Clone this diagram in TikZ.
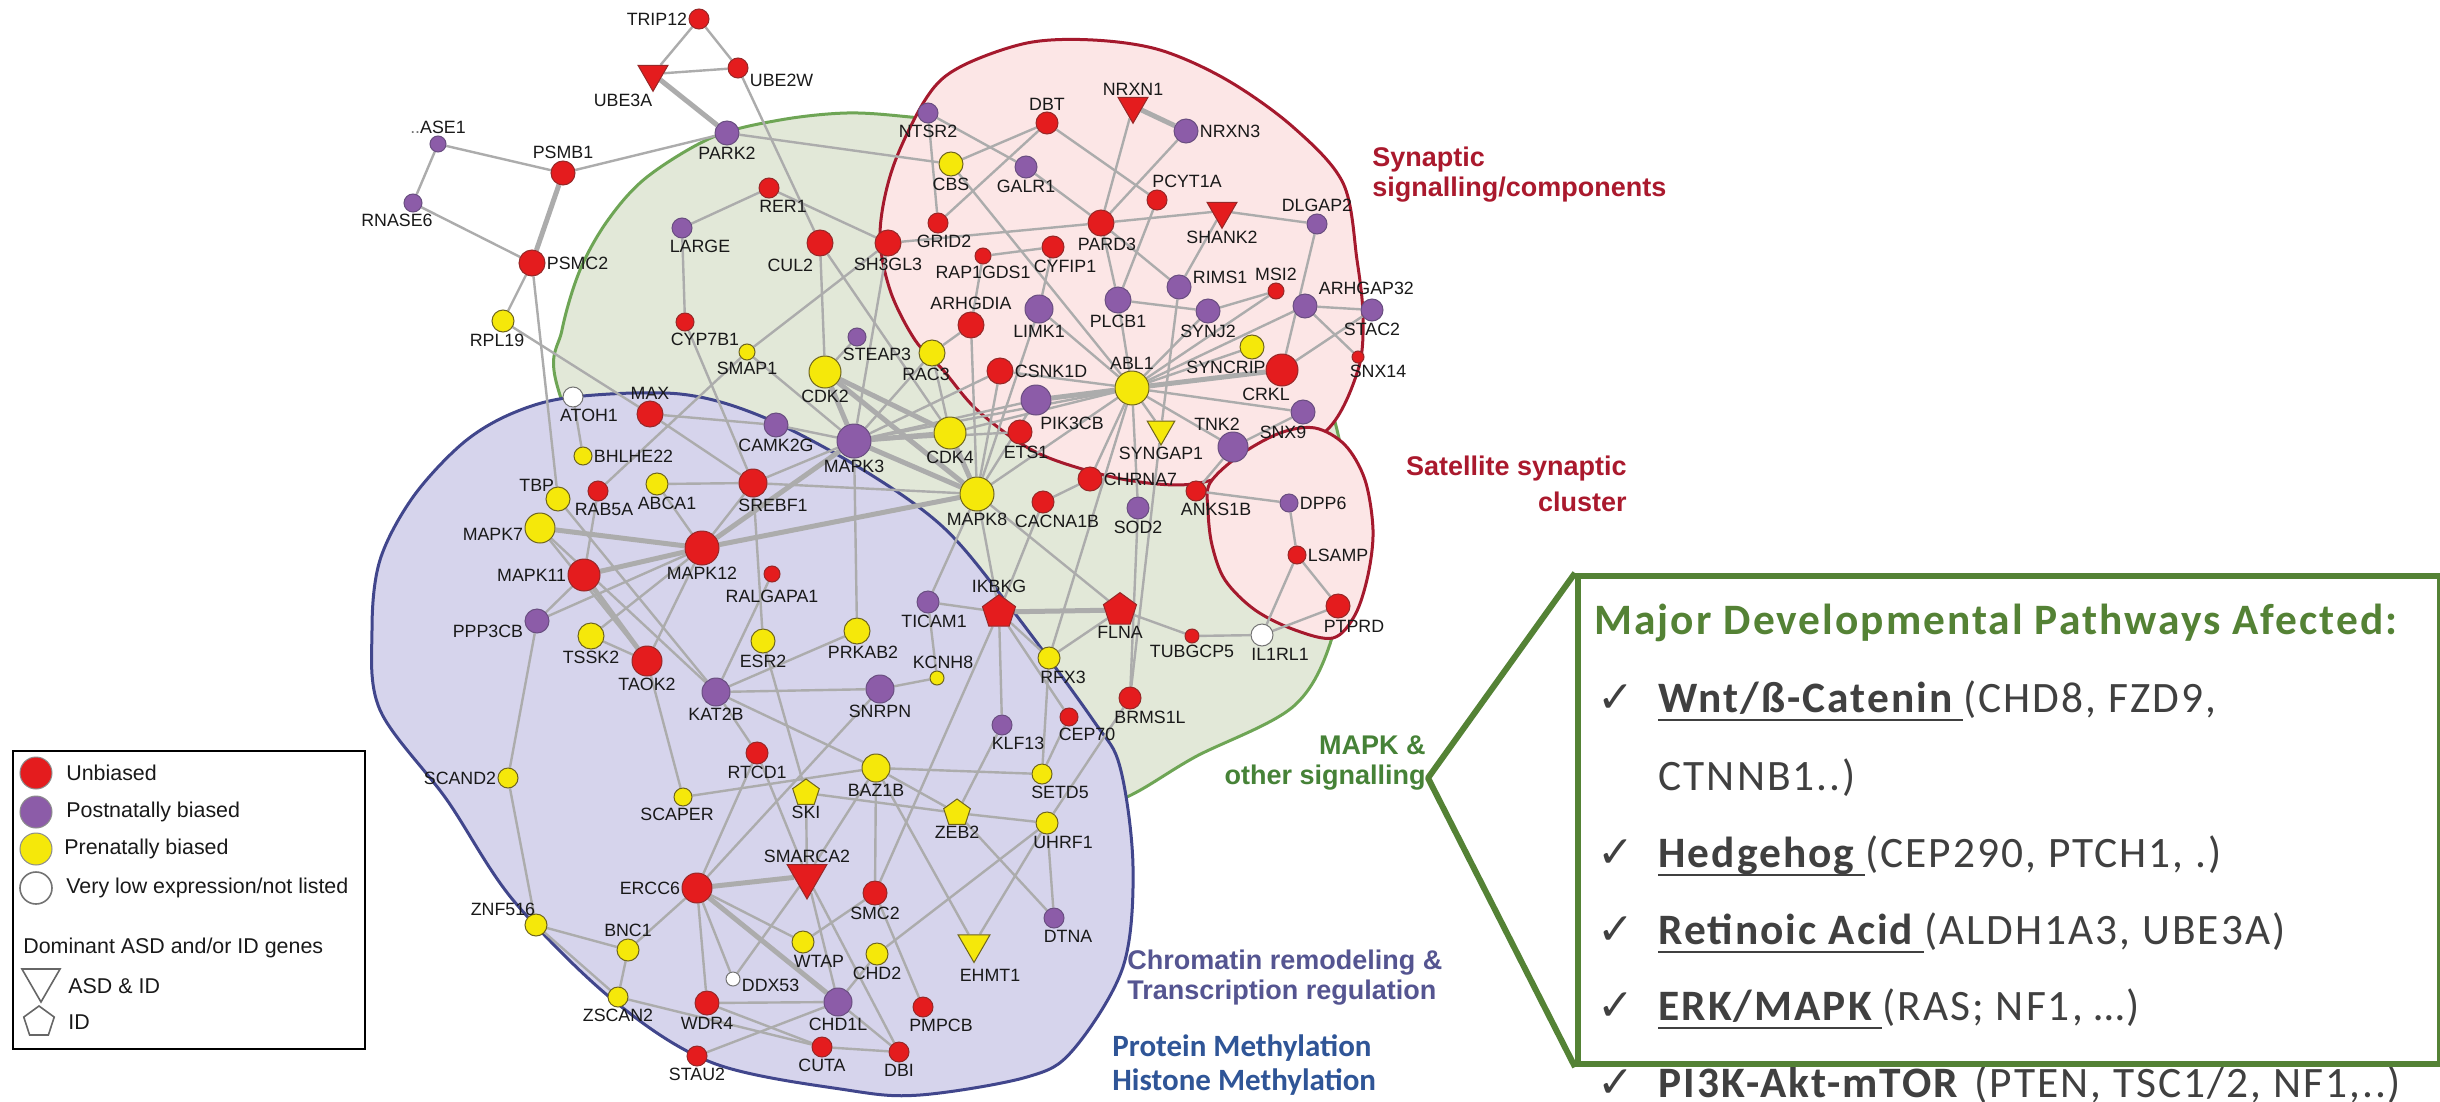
\documentclass[tikz,border=0pt]{standalone}
\usepackage{fontspec}
\setmainfont{Liberation Sans}
\newfontfamily\boxfnt{Carlito}[LetterSpace=4.7]
\newfontfamily\methfnt{Carlito}
\newfontfamily\symfnt{DejaVu Sans}
\usetikzlibrary{shapes.geometric}
\pgfdeclarelayer{regions}
\pgfdeclarelayer{links}
\pgfsetlayers{regions,links,main}

\definecolor{nRed}{RGB}{228,28,30}
\definecolor{nRedD}{RGB}{150,40,40}
\definecolor{nPur}{RGB}{140,92,168}
\definecolor{nPurD}{RGB}{105,78,128}
\definecolor{nYel}{RGB}{245,232,10}
\definecolor{nYelD}{RGB}{110,100,30}
\definecolor{edgeC}{RGB}{172,172,172}
\definecolor{gFill}{RGB}{226,232,216}
\definecolor{gLine}{RGB}{110,165,85}
\definecolor{bFill}{RGB}{214,212,236}
\definecolor{bLine}{RGB}{65,70,140}
\definecolor{rFill}{RGB}{252,230,230}
\definecolor{rLine}{RGB}{165,25,45}
\definecolor{synTxt}{RGB}{170,25,45}
\definecolor{mapkTxt}{RGB}{70,130,55}
\definecolor{chrTxt}{RGB}{85,85,145}
\definecolor{methTxt}{RGB}{47,85,151}
\definecolor{boxGreen}{RGB}{84,130,53}
\definecolor{boxGray}{RGB}{64,64,64}

\newcommand\genefont{\fontsize{8.9}{9}\selectfont}
% \gene[label options]{style}{size in pt}{name}{x,y}{label position}{text}
\newcommand\gene[7][]{\node[#2, minimum size=#3pt, label={[lab,#1]#6:#7}] (#4) at (#5) {};}

\tikzset{
  gn/.style={circle, inner sep=0pt, line width=0.5pt, label distance=1.5pt},
  U/.style={gn, fill=nRed, draw=nRedD},
  P/.style={gn, fill=nPur, draw=nPurD},
  Y/.style={gn, fill=nYel, draw=nYelD},
  W/.style={gn, fill=white, draw=black!55},
  tri/.style={regular polygon, regular polygon sides=3, shape border rotate=180, inner sep=0pt, line width=0.5pt, label distance=1.5pt},
  pent/.style={regular polygon, regular polygon sides=5, inner sep=0pt, line width=0.5pt, label distance=1.5pt},
  Utri/.style={tri, fill=nRed, draw=nRedD},
  Ytri/.style={tri, fill=nYel, draw=nYelD},
  Upent/.style={pent, fill=nRed, draw=nRedD},
  Ypent/.style={pent, fill=nYel, draw=nYelD},
  lab/.style={font=\genefont, text=black!90, inner sep=0.5pt},
  ed/.style={draw=edgeC, line width=1.2pt},
  edT/.style={draw=edgeC, line width=2.5pt},
  reg/.style={font=\bfseries\fontsize{13.5}{15}\selectfont, inner sep=0pt},
  meth/.style={font=\methfnt\bfseries\fontsize{15.5}{18}\selectfont, text=methTxt, inner sep=0pt, anchor=west},
  leg/.style={font=\fontsize{10.7}{12}\selectfont, inner sep=0pt, anchor=west, text=black!90},
  boxt/.style={font=\boxfnt\fontsize{21.7}{24}\selectfont, text=boxGray, inner sep=0pt, anchor=base west},
  boxb/.style={boxt, font=\boxfnt\bfseries\fontsize{21.7}{24}\selectfont},
  chk/.style={font=\symfnt\fontsize{22}{24}\selectfont, text=boxGray, inner sep=0pt, anchor=base west},
  ul/.style={draw=boxGray, line width=1.4pt},
}

\begin{document}
\begin{tikzpicture}[x=0.5pt, y=-0.5pt]
\useasboundingbox (0,0) rectangle (2440,1102);

% ---------- functional regions ----------
\begin{pgfonlayer}{regions}
\fill[white] (0,0) rectangle (2440,1102);
\draw[fill=gFill, draw=gLine, line width=1.5pt] plot[smooth cycle, tension=0.55] coordinates {
 (557,385) (562,330) (580,270) (608,220) (647,177) (713,137) (780,120) (847,113) (910,117)
 (1000,128) (1100,162) (1200,222) (1280,305) (1330,405) (1350,520) (1335,628) (1295,705)
 (1195,757) (1127,797) (1050,825) (950,820) (840,760) (720,660) (620,540)};
\draw[fill=bFill, draw=bLine, line width=1.5pt] plot[smooth cycle, tension=0.55] coordinates {
 (573,397) (680,394) (763,417) (860,468) (943,527) (1010,607) (1093,720) (1120,767) (1133,867)
 (1123,967) (1073,1050) (1027,1077) (920,1095) (847,1090) (713,1063) (613,1000) (513,900)
 (447,800) (380,710) (372,630) (380,560) (413,497) (463,443) (513,413)};
\draw[fill=rFill, draw=rLine, line width=1.5pt] plot[smooth cycle, tension=0.55] coordinates {
 (893,167) (927,97) (960,67) (1027,43) (1093,40) (1160,50) (1227,80) (1293,127) (1343,183)
 (1357,260) (1363,317) (1358,370) (1327,430) (1260,463) (1193,484) (1127,480) (1060,462)
 (1020,443) (975,408) (943,370) (915,340) (890,290) (880,233)};
\draw[fill=rFill, draw=rLine, line width=1.5pt] plot[smooth cycle, tension=0.55] coordinates {
 (1210,483) (1240,455) (1280,433) (1315,428) (1345,445) (1365,480) (1373,530) (1368,575)
 (1355,615) (1333,638) (1295,630) (1255,610) (1225,580) (1212,545) (1208,510)};
\end{pgfonlayer}

% ---------- genes ----------
\gene{U}{10}{trip12}{699,19}{left}{TRIP12}
\gene[yshift=-6pt]{U}{10}{ube2w}{738,68}{right}{UBE2W}
\gene[xshift=-15pt]{Utri}{17.3}{ube3a}{653,74}{below}{UBE3A}
\gene{P}{12}{park2}{727,133}{below}{PARK2}
\gene{P}{8}{rnasea}{438,144}{above}{{\color{black!55}..}ASE1}
\gene[xshift=-8pt]{P}{9}{rnaseb}{413,203}{below}{RNASE6}
\gene{U}{12}{psmb1}{563,173}{above}{PSMB1}
\gene{U}{13}{psmc2}{532,263}{right}{PSMC2}
\gene[xshift=-3pt]{Y}{11}{rpl19}{503,321}{below}{RPL19}
\gene[xshift=9pt]{P}{10}{large}{682,228}{below}{LARGE}
\gene[xshift=7pt]{U}{10}{rer1}{769,188}{below}{RER1}
\gene[yshift=-11pt, xshift=4pt]{U}{13}{cul2}{820,243}{left}{CUL2}
\gene{U}{13}{sh3gl3}{888,243}{below}{SH3GL3}
\gene[xshift=10pt]{U}{9}{cyp7b1}{685,322}{below}{CYP7B1}
\gene{Y}{8}{smap1}{747,352}{below}{SMAP1}
\gene[xshift=10pt]{P}{9}{steap3}{857,337}{below}{STEAP3}
\gene{Y}{16}{cdk2}{825,372}{below}{CDK2}
\gene{P}{10}{ntsr2}{928,113}{below}{NTSR2}
\gene{U}{11}{dbt}{1047,123}{above}{DBT}
\gene{Utri}{17.3}{nrxn1}{1133,106}{above}{NRXN1}
\gene{P}{12}{nrxn3}{1186,131}{right}{NRXN3}
\gene{Y}{12}{cbs}{951,164}{below}{CBS}
\gene{P}{11}{galr1}{1026,167}{below}{GALR1}
\gene[xshift=15pt]{U}{10}{pcyt1a}{1157,200}{above}{PCYT1A}
\gene{Utri}{17.3}{shank2}{1222,211}{below}{SHANK2}
\gene{P}{10}{dlgap2}{1317,224}{above}{DLGAP2}
\gene[xshift=3pt]{U}{10}{grid2}{938,223}{below}{GRID2}
\gene[xshift=3pt]{U}{13}{pard3}{1101,223}{below}{PARD3}
\gene[xshift=6pt]{U}{11}{cyfip1}{1053,247}{below}{CYFIP1}
\gene{U}{8}{rapgds}{983,256}{below}{RAP1GDS1}
\gene[yshift=5pt]{P}{12}{rims1}{1179,287}{right}{RIMS1}
\gene{U}{8}{msi2}{1276,291}{above}{MSI2}
\gene[yshift=9pt]{P}{12}{arhgap}{1305,306}{right}{ARHGAP32}
\gene{P}{11}{stac2}{1372,310}{below}{STAC2}
\gene{P}{14}{limk1}{1039,309}{below}{LIMK1}
\gene{P}{13}{plcb1}{1118,300}{below}{PLCB1}
\gene{P}{12}{synj2}{1208,311}{below}{SYNJ2}
\gene{U}{13}{arhgdia}{971,325}{above}{ARHGDIA}
\gene[xshift=-3pt]{Y}{13}{rac3}{932,353}{below}{RAC3}
\gene{U}{13}{csnk1d}{1000,371}{right}{CSNK1D}
\gene{Y}{17}{abl1}{1132,388}{above}{ABL1}
\gene[xshift=-13pt]{Y}{12}{syncrip}{1252,347}{below}{SYNCRIP}
\gene[xshift=-8pt]{U}{16}{crkl}{1282,370}{below}{CRKL}
\gene[xshift=10pt]{U}{6}{snx14}{1358,357}{below}{SNX14}
\gene[xshift=-10pt]{P}{12}{snx9}{1303,412}{below}{SNX9}
\gene[xshift=-8pt]{P}{15}{tnk2}{1233,447}{above}{TNK2}
\gene{Ytri}{16}{syngap1}{1161,429}{below}{SYNGAP1}
\gene[xshift=18pt]{P}{15}{pik3cb}{1036,400}{below}{PIK3CB}
\gene{Y}{16}{cdk4}{950,433}{below}{CDK4}
\gene[xshift=3pt]{U}{12}{ets1}{1020,432}{below}{ETS1}
\gene{P}{17}{mapk3}{854,441}{below}{MAPK3}
\gene{P}{12}{camk2g}{776,425}{below}{CAMK2G}
\gene{Y}{17}{mapk8}{977,494}{below}{MAPK8}
\gene{U}{12}{chrna7}{1090,479}{right}{CHRNA7}
\gene[xshift=7pt]{U}{11}{cacna1b}{1043,502}{below}{CACNA1B}
\gene{P}{11}{sod2}{1138,508}{below}{SOD2}
\gene[xshift=10pt]{U}{10}{anks1b}{1196,491}{below}{ANKS1B}
\gene{P}{9}{dpp6}{1289,503}{right}{DPP6}
\gene{U}{9}{lsamp}{1297,555}{right}{LSAMP}
\gene[xshift=8pt]{U}{12}{ptprd}{1338,606}{below}{PTPRD}
\gene[xshift=9pt]{W}{11}{il1rl1}{1262,635}{below}{IL1RL1}
\gene{U}{7}{tubgcp5}{1192,636}{below}{TUBGCP5}
\gene{Upent}{17.4}{flna}{1120,610}{below}{FLNA}
\gene{Upent}{17.4}{ikbkg}{999,612}{above}{IKBKG}
\gene[xshift=3pt]{P}{11}{ticam1}{928,602}{below}{TICAM1}
\gene[xshift=7pt]{Y}{11}{rfx3}{1049,658}{below}{RFX3}
\gene[xshift=3pt]{Y}{7}{kcnh8}{937,678}{above}{KCNH8}
\gene{P}{14}{snrpn}{880,689}{below}{SNRPN}
\gene[xshift=10pt]{U}{11}{brms1l}{1130,698}{below}{BRMS1L}
\gene[xshift=3pt]{Y}{13}{prkab2}{857,631}{below}{PRKAB2}
\gene[xshift=8pt]{W}{10}{atoh1}{573,397}{below}{ATOH1}
\gene{U}{13}{maxg}{650,414}{above}{MAX}
\gene{Y}{9}{bhlhe22}{583,456}{right}{BHLHE22}
\gene[yshift=7pt, xshift=5pt]{Y}{12}{tbp}{558,499}{left}{TBP}
\gene[xshift=3pt]{U}{10}{rab5a}{598,491}{below}{RAB5A}
\gene[xshift=5pt]{Y}{11}{abca1}{657,484}{below}{ABCA1}
\gene[xshift=10pt]{U}{14}{srebf1}{753,483}{below}{SREBF1}
\gene[yshift=-3pt]{Y}{15}{mapk7}{540,528}{left}{MAPK7}
\gene{U}{17}{mapk12}{702,548}{below}{MAPK12}
\gene{U}{16}{mapk11}{584,575}{left}{MAPK11}
\gene[yshift=-3pt]{U}{8}{ralgapa1}{772,574}{below}{RALGAPA1}
\gene[yshift=-5pt]{P}{12}{ppp3cb}{537,621}{left}{PPP3CB}
\gene{Y}{13}{tssk2}{591,636}{below}{TSSK2}
\gene{U}{15}{taok2}{647,661}{below}{TAOK2}
\gene{Y}{12}{esr2}{763,641}{below}{ESR2}
\gene{P}{14}{kat2b}{716,692}{below}{KAT2B}
\gene{Y}{10}{scand2}{508,778}{left}{SCAND2}
\gene{U}{11}{rtcd1}{757,753}{below}{RTCD1}
\gene[xshift=-3pt]{Y}{9}{scaper}{683,797}{below}{SCAPER}
\gene{Ypent}{14}{ski}{806,793}{below}{SKI}
\gene{Y}{14}{baz1b}{876,768}{below}{BAZ1B}
\gene{Utri}{23}{smarca2}{807,876}{above}{SMARCA2}
\gene{U}{15}{ercc6}{697,888}{left}{ERCC6}
\gene{U}{12}{smc2}{875,893}{below}{SMC2}
\gene[yshift=8pt, xshift=6pt]{Y}{11}{znf516}{536,925}{left}{ZNF516}
\gene{Y}{11}{bnc1}{628,950}{above}{BNC1}
\gene[xshift=8pt]{Y}{11}{wtap}{803,942}{below}{WTAP}
\gene{Y}{11}{chd2}{877,954}{below}{CHD2}
\gene[yshift=-3pt]{W}{7}{ddx53}{733,979}{right}{DDX53}
\gene{Y}{10}{zscan2}{618,997}{below}{ZSCAN2}
\gene{U}{12}{wdr4}{707,1003}{below}{WDR4}
\gene{P}{14}{chd1l}{838,1002}{below}{CHD1L}
\gene{U}{10}{cuta}{822,1047}{below}{CUTA}
\gene{U}{10}{stau2}{697,1056}{below}{STAU2}
\gene{U}{10}{dbi}{899,1052}{below}{DBI}
\gene[xshift=8pt]{P}{10}{klf13}{1002,725}{below}{KLF13}
\gene[xshift=9pt]{U}{9}{cep70}{1069,717}{below}{CEP70}
\gene[xshift=9pt]{Y}{10}{setd5}{1042,774}{below}{SETD5}
\gene{Ypent}{14}{zeb2}{957,813}{below}{ZEB2}
\gene[xshift=8pt]{Y}{11}{uhrf1}{1047,823}{below}{UHRF1}
\gene[xshift=7pt]{P}{10}{dtna}{1054,918}{below}{DTNA}
\gene[xshift=8pt, yshift=-2pt]{Ytri}{18.5}{ehmt1}{974,944}{below}{EHMT1}
\gene[xshift=9pt]{U}{10}{pmpcb}{923,1007}{below}{PMPCB}

% ---------- interactions ----------
\begin{pgfonlayer}{links}
\foreach \a/\b in {trip12/ube3a, trip12/ube2w, ube2w/ube3a, ube2w/cul2, park2/psmb1, park2/cbs,
  rnasea/psmb1, rnasea/rnaseb, rnaseb/psmc2, psmc2/rpl19, psmc2/tbp, rpl19/maxg, large/rer1,
  large/cyp7b1, rer1/sh3gl3, cul2/cdk2, cul2/cdk4, sh3gl3/smap1, cyp7b1/srebf1, steap3/cdk2,
  sh3gl3/mapk3, sh3gl3/pard3,
  ntsr2/grid2, ntsr2/galr1, dbt/cbs, dbt/pcyt1a, nrxn1/pard3, nrxn3/pard3, galr1/pard3, cbs/abl1,
  grid2/dbt, pard3/shank2, shank2/dlgap2, rapgds/cyfip1, rapgds/arhgdia, pard3/plcb1, pard3/rims1,
  pcyt1a/plcb1, shank2/rims1, plcb1/synj2, synj2/msi2, dlgap2/crkl, arhgap/stac2, arhgap/abl1,
  arhgap/snx14, stac2/crkl, cyfip1/limk1, limk1/abl1, limk1/mapk8, arhgdia/rac3, arhgdia/mapk8,
  rims1/syngap1, syngap1/brms1l, abl1/csnk1d, abl1/plcb1, abl1/synj2, abl1/snx9, abl1/tnk2,
  abl1/syngap1, abl1/sod2, abl1/rfx3, abl1/msi2, abl1/syncrip, tnk2/snx9, tnk2/anks1b,
  mapk3/rac3, mapk3/csnk1d, mapk3/pik3cb, mapk3/ets1, mapk3/abl1, mapk3/camk2g, mapk3/srebf1,
  mapk3/prkab2, mapk3/smap1, cdk4/rac3, cdk4/abl1, mapk8/abl1, mapk8/pik3cb, mapk8/csnk1d,
  mapk8/srebf1, mapk8/ikbkg, mapk8/flna, mapk8/ticam1, chrna7/cacna1b, chrna7/abl1,
  cacna1b/ikbkg, sod2/brms1l, ikbkg/ticam1, ikbkg/rfx3, ikbkg/klf13, ikbkg/cep70, flna/tubgcp5,
  flna/rfx3, tubgcp5/il1rl1, il1rl1/lsamp, il1rl1/ptprd, lsamp/ptprd, lsamp/dpp6, dpp6/anks1b,
  kcnh8/snrpn,
  atoh1/bhlhe22, maxg/srebf1, maxg/camk2g, abca1/srebf1, abca1/mapk12, srebf1/mapk12, srebf1/esr2,
  mapk7/taok2, mapk7/kat2b, tbp/kat2b, mapk11/ppp3cb, mapk12/ppp3cb, mapk12/tssk2, mapk12/taok2,
  rab5a/mapk11, tssk2/taok2, ppp3cb/scand2, ralgapa1/kat2b, esr2/ski, kat2b/snrpn, kat2b/rtcd1,
  kat2b/baz1b, smap1/rab5a, taok2/scaper,
  scand2/znf516, znf516/bnc1, znf516/zscan2, bnc1/zscan2, bnc1/ercc6, zscan2/cuta, ercc6/rtcd1,
  ercc6/snrpn, ercc6/wdr4, ercc6/ddx53, ercc6/wtap, smarca2/ski, smarca2/ddx53, smarca2/chd1l,
  smarca2/baz1b, smarca2/dbi, rtcd1/smarca2, scaper/baz1b, ski/zeb2, smc2/wtap, smc2/baz1b,
  smc2/pmpcb, chd2/chd1l, chd1l/wdr4, chd1l/stau2, chd1l/dbi, cuta/dbi, wdr4/cuta, baz1b/setd5,
  baz1b/zeb2, baz1b/ehmt1, zeb2/uhrf1, zeb2/dtna, uhrf1/dtna, uhrf1/ehmt1, uhrf1/chd2,
  uhrf1/brms1l, setd5/rfx3, setd5/cep70, klf13/zeb2, smc2/ikbkg, prkab2/kat2b, ticam1/kcnh8}
  \draw[ed] (\a) -- (\b);
\foreach \a/\b in {ube3a/park2, psmb1/psmc2, nrxn1/nrxn3, mapk7/mapk12, mapk11/mapk12,
  mapk11/taok2, mapk12/mapk3, mapk12/mapk8, ikbkg/flna, ercc6/smarca2, ercc6/chd1l, mapk3/mapk8,
  cdk4/mapk8, cdk2/mapk8, abl1/crkl, abl1/pik3cb, cdk2/cdk4, mapk3/cdk4, mapk3/cdk2}
  \draw[edT] (\a) -- (\b);
\end{pgfonlayer}

% ---------- region captions ----------
\node[reg, text=synTxt, anchor=west] (synA) at (1372,160) {Synaptic};
\node[reg, text=synTxt, anchor=west] (synB) at (1372,190) {signalling/components};
\node[reg, text=synTxt, anchor=east] (satA) at (1627,469) {Satellite synaptic};
\node[reg, text=synTxt, anchor=east] (satB) at (1627,502) {cluster};
\node[reg, text=mapkTxt, anchor=east] (mapA) at (1426,745) {MAPK \&};
\node[reg, text=mapkTxt, anchor=east] (mapB) at (1426,778) {other signalling};
\node[reg, text=chrTxt, anchor=west] (chrA) at (1127,963) {Chromatin remodeling \&};
\node[reg, text=chrTxt, anchor=west] (chrB) at (1127,993) {Transcription regulation};
\node[meth] (methA) at (1112,1048) {Protein Methylation};
\node[meth] (methB) at (1112,1082) {Histone Methylation};

% ---------- legend ----------
\node[draw=black, line width=1pt, minimum width=176pt, minimum height=149pt, anchor=north west, inner sep=0pt] (legbox) at (12,750) {};
\node[U, minimum size=16pt, draw=black!45] (lgU) at (36,773) {};
\node[P, minimum size=16pt, draw=black!45] (lgP) at (36,812) {};
\node[Y, minimum size=16pt, draw=black!45] (lgY) at (36,849) {};
\node[W, minimum size=16pt, line width=0.8pt] (lgW) at (36,888) {};
\node[tri, draw=black!60, line width=0.8pt, minimum size=22pt] (lgT) at (41,980) {};
\node[pent, draw=black!60, line width=0.8pt, minimum size=16pt] (lgQ) at (39,1022) {};
\node[leg] (lgUt) at (66,773) {Unbiased};
\node[leg] (lgPt) at (66,812) {Postnatally biased};
\node[leg] (lgYt) at (64,849) {Prenatally biased};
\node[leg] (lgWt) at (66,888) {Very low expression/not listed};
\node[leg] (lgH) at (23,948) {Dominant ASD and/or ID genes};
\node[leg] (lgTt) at (68,986) {ASD \& ID};
\node[leg] (lgQt) at (68,1022) {ID};

% ---------- pathway panel ----------
\node[boxb, text=boxGreen] (ttl) at (1594,634) {Major Developmental Pathways Afected:};

\node[chk] (c1) at (1597,712) {✓};
\node[boxb] (t1) at (1658,712) {Wnt/ß-Catenin\kern5pt};
\node[boxt] (p1) at (t1.base east) {(CHD8, FZD9,};
\node[boxt] (p1b) at (1658,790) {CTNNB1..)};
\draw[ul] ([yshift=-4pt]t1.base west) -- ([yshift=-4pt]t1.base east);

\node[chk] (c2) at (1597,867) {✓};
\node[boxb] (t2) at (1658,867) {Hedgehog\kern5pt};
\node[boxt] (p2) at (t2.base east) {(CEP290, PTCH1, .)};
\draw[ul] ([yshift=-4pt]t2.base west) -- ([yshift=-4pt]t2.base east);

\node[chk] (c3) at (1597,944) {✓};
\node[boxb] (t3) at (1658,944) {Retinoic Acid\kern5pt};
\node[boxt] (p3) at (t3.base east) {(ALDH1A3, UBE3A)};
\draw[ul] ([yshift=-4pt]t3.base west) -- ([yshift=-4pt]t3.base east);

\node[chk] (c4) at (1597,1020) {✓};
\node[boxb] (t4) at (1658,1020) {ERK/MAPK\kern5pt};
\node[boxt] (p4) at (t4.base east) {(RAS; NF1, …)};
\draw[ul] ([yshift=-4pt]t4.base west) -- ([yshift=-4pt]t4.base east);

\node[chk] (c5) at (1597,1097) {✓};
\node[boxb] (t5) at (1658,1097) {PI3K-Akt-mTOR\kern8pt};
\node[boxt] (p5) at (t5.base east) {(PTEN, TSC1/2, NF1,..)};
\draw[ul] ([yshift=-4pt]t5.base west) -- ([yshift=-4pt]t5.base east);

\node[draw=boxGreen, line width=3pt, inner sep=0pt, minimum width=431pt, minimum height=244pt, anchor=north west] (pbox) at (1575,573) {};
\coordinate (apex) at (1428,778);
\draw[boxGreen, line width=3pt, line join=round] (pbox.north west) -- (apex) -- (pbox.south west);
\end{tikzpicture}
\end{document}
